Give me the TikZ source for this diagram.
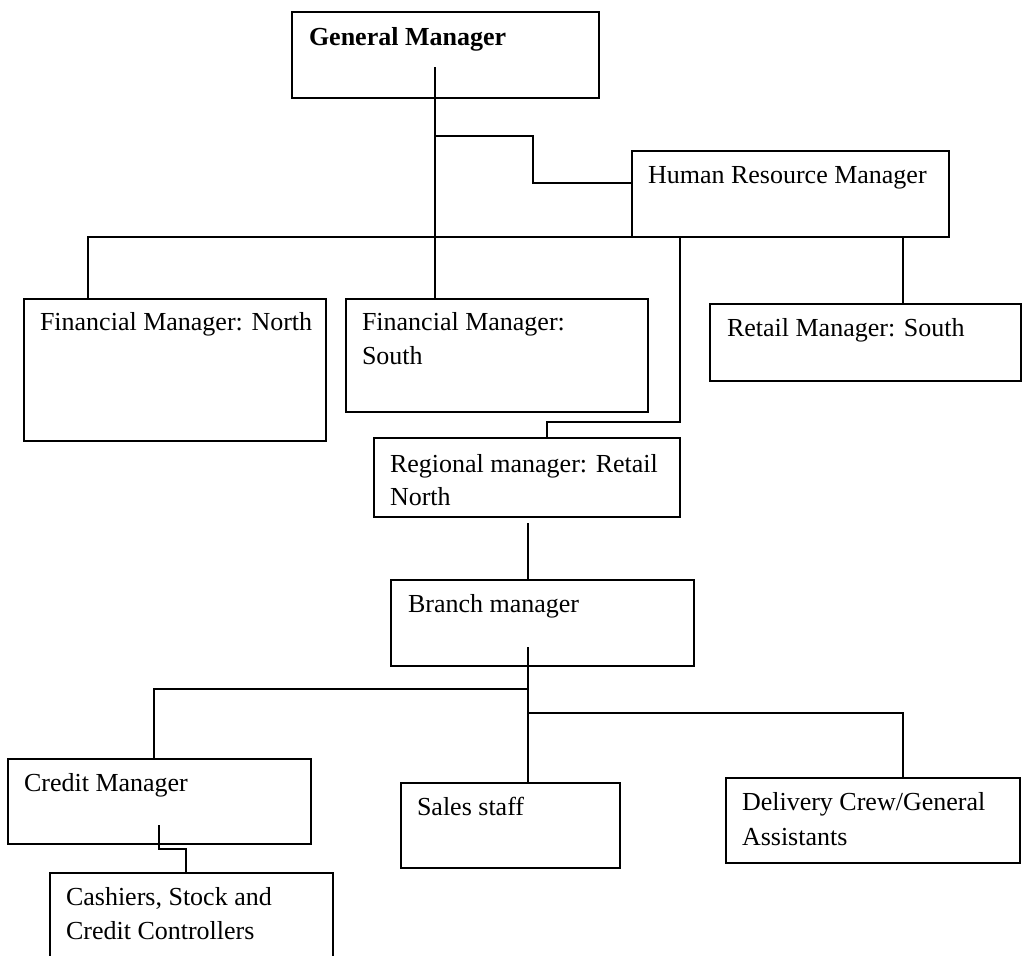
\documentclass[tikz,border=0pt]{standalone}
\usepackage{fontspec}
\setmainfont{Liberation Serif}
\begin{document}
\begin{tikzpicture}[x=1pt,y=-1pt,
  box/.style={draw, line width=2.2pt, rectangle, inner sep=0pt, outer sep=0pt, anchor=north west},
  lbl/.style={anchor=base west, inner sep=0pt, outer sep=0pt, font=\fontsize{26}{33}\selectfont},
  conn/.style={line width=2pt}]
\useasboundingbox (0,0) rectangle (1023,956);
\clip (0,0) rectangle (1023,956);
% boxes
\node[box, minimum width=307pt, minimum height=86pt] (gm) at (292,12) {};
\node[box, minimum width=317pt, minimum height=86pt] (hr) at (632,151) {};
\node[box, minimum width=302pt, minimum height=142pt] (fn) at (24,299) {};
\node[box, minimum width=302pt, minimum height=113pt] (fs) at (346,299) {};
\node[box, minimum width=311pt, minimum height=77pt] (rs) at (710,304) {};
\node[box, minimum width=306pt, minimum height=79pt] (rg) at (374,438) {};
\node[box, minimum width=303pt, minimum height=86pt] (bm) at (391,580) {};
\node[box, minimum width=303pt, minimum height=85pt] (cm) at (8,759) {};
\node[box, minimum width=283pt, minimum height=110pt] (cc) at (50,873) {};
\node[box, minimum width=219pt, minimum height=85pt] (ss) at (401,783) {};
\node[box, minimum width=294pt, minimum height=85pt] (dc) at (726,778) {};
% labels
\node[lbl, font=\fontsize{26}{33}\selectfont\bfseries] (gmT) at (309,45) {General Manager};
\node[lbl] (hrT) at (648,183) {Human Resource Manager};
\node[lbl] (fnT) at (40,330) {Financial Manager: North};
\node[lbl] (fsT1) at (362,330) {Financial Manager:};
\node[lbl] (fsT2) at (362,364) {South};
\node[lbl] (rsT) at (727,336) {Retail Manager: South};
\node[lbl] (rgT1) at (390,472) {Regional manager: Retail};
\node[lbl] (rgT2) at (390,505) {North};
\node[lbl] (bmT) at (408,612) {Branch manager};
\node[lbl] (cmT) at (24,791) {Credit Manager};
\node[lbl] (ccT1) at (66,905) {Cashiers, Stock and};
\node[lbl] (ccT2) at (66,939) {Credit Controllers};
\node[lbl] (ssT) at (417,815) {Sales staff};
\node[lbl] (dcT1) at (742,810) {Delivery Crew/General};
\node[lbl] (dcT2) at (742,845) {Assistants};
% connectors
\coordinate (gmIn) at (435,67);
\coordinate (j1) at (435,136);
\draw[conn] (gmIn) -- (gmIn |- fs.north);
\draw[conn] (j1) -- (533,136) -- (533,183) -- (hr.west |- 0,183);
\draw[conn] (hr.south west) -- (88,237) -- (fn.north -| 88,0);
\draw[conn] (hr.south -| 903,0) -- (rs.north -| 903,0);
\draw[conn] (hr.south -| 680,0) -- (680,422) -- (547,422) -- (rg.north -| 547,0);
\coordinate (rgOut) at (528,523);
\draw[conn] (rgOut) -- (bm.north -| rgOut);
\coordinate (bmIn) at (528,647);
\draw[conn] (bmIn) -- (ss.north -| bmIn);
\draw[conn] (528,689) -- (154,689) -- (cm.north -| 154,0);
\draw[conn] (528,713) -- (903,713) -- (dc.north -| 903,0);
\coordinate (cmIn) at (159,825);
\draw[conn] (cmIn) -- (159,849) -- (186,849) -- (cc.north -| 186,0);
\end{tikzpicture}
\end{document}
